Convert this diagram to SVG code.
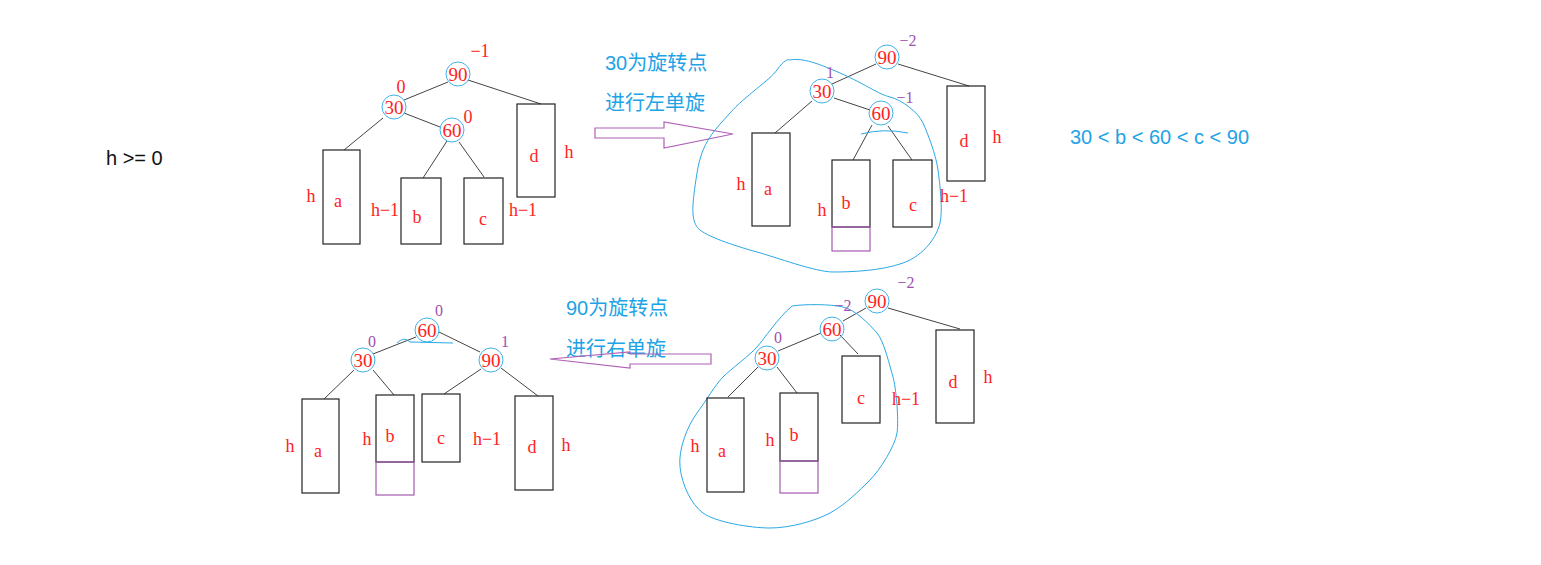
<svg xmlns="http://www.w3.org/2000/svg" width="1541" height="565" viewBox="0 0 1541 565">
<style>
.bg{fill:#fff}
.e{stroke:#444;stroke-width:1;fill:none}
.bx{fill:none;stroke:#222;stroke-width:1.2}
.pb{fill:none;stroke:#a35bb0;stroke-width:1.2}
.nc{fill:none;stroke:#3fb2ea;stroke-width:1}
.r{font-family:"Liberation Serif",serif;font-size:18px;fill:#f22;text-anchor:middle}
.n{font-family:"Liberation Serif",serif;font-size:19px;fill:#f22;text-anchor:middle}
.p{font-family:"Liberation Serif",serif;font-size:16px;fill:#a050b0;text-anchor:middle}
.bl{font-family:"Liberation Sans","Noto Sans CJK SC",sans-serif;font-size:20px;fill:#1ea3e6}
.k{font-family:"Liberation Sans",sans-serif;font-size:20px;fill:#111}
.blob{fill:none;stroke:#2aa8e6;stroke-width:1}
.arr{fill:none;stroke:#b060b8;stroke-width:1.2}
</style>
<rect class="bg" width="1541" height="565"/>
<text class="k" x="106" y="165">h &gt;= 0</text>
<text class="bl" x="1070" y="144">30 &lt; b &lt; 60 &lt; c  &lt; 90</text>
<text class="bl" x="605" y="70">30为旋转点</text>
<text class="bl" x="605" y="110">进行左单旋</text>
<text class="bl" x="566" y="315">90为旋转点</text>
<text class="bl" x="566" y="356">进行右单旋</text>
<g id="connectors">
<path class="e" d="M448 82L404 100M468 80L541 104M383 118L344 150M404 113L440 127M447 141L423 178M459 142L484 177"/>
<path class="e" d="M876 64L832 84M898 64L969 86M812 101L775 133M834 98L870 110M872 125L853 160M888 126L912 160"/>
<path class="e" d="M416 337L373 354M439 332L480 352M354 370L324 399M373 370L394 395M481 369L444 394M501 368L538 396"/>
<path class="e" d="M866 308L843 321M888 308L960 329M821 333L778 351M840 335L858 354M758 367L728 397M777 367L797 393"/>
<polygon class="arr" points="595,128 664,128 664,122 733,134 664,148 664,138 595,138"/>
<polygon class="arr" points="711,354 711,364 630,364 630,368 550,359 630,352 630,354"/>
<path class="blob" d="M790 60C800 58 813 61 840 73S878 94 890 97 918 112 923 123 936 155 938 170 943 210 940 223 925 255 903 263 850 272 833 272 775 257 757 252 710 238 700 230 692 205 697 173 715 130 730 113 770 80 777 70 788 59 790 60"/>
<path class="blob" d="M792 306C805 304 830 304 843 307S870 325 877 333 890 367 893 377 899 420 897 433 880 470 870 480 845 505 830 513 790 528 770 528 715 522 703 513 682 485 680 467 688 425 697 413 715 385 723 377 750 355 757 347 778 318 792 306"/>
<path class="blob" d="M861 134Q884 128 908 133"/>
<path class="blob" d="M397 343Q404 336 410 342L453 343"/>
</g>
<g id="tl">
<circle class="nc" cx="458" cy="74" r="12"/><text class="n" x="458" y="81">90</text><text class="r" x="480" y="57">−1</text>
<circle class="nc" cx="394" cy="107" r="12"/><text class="n" x="394" y="114">30</text><text class="r" x="401" y="93">0</text>
<circle class="nc" cx="452" cy="130" r="12"/><text class="n" x="452" y="137">60</text><text class="r" x="468" y="123">0</text>
<rect class="bx" x="323" y="150" width="37" height="94"/><text class="r" x="311" y="202">h</text><text class="r" x="338" y="207">a</text>
<rect class="bx" x="401" y="178" width="40" height="66"/><text class="r" x="385" y="216">h−1</text><text class="r" x="417" y="223">b</text>
<rect class="bx" x="464" y="178" width="39" height="66"/><text class="r" x="523" y="216">h−1</text><text class="r" x="483" y="225">c</text>
<rect class="bx" x="517" y="104" width="38" height="93"/><text class="r" x="534" y="162">d</text><text class="r" x="569" y="158">h</text>
</g>
<g id="tr">
<circle class="nc" cx="887" cy="57" r="12"/><text class="n" x="887" y="64">90</text><text class="p" x="908" y="46">−2</text>
<circle class="nc" cx="822" cy="91" r="12"/><text class="n" x="822" y="98">30</text><text class="p" x="830" y="78">1</text>
<circle class="nc" cx="881" cy="113" r="12"/><text class="n" x="881" y="120">60</text><text class="p" x="905" y="103">−1</text>
<rect class="bx" x="752" y="133" width="38" height="93"/><text class="r" x="741" y="190">h</text><text class="r" x="768" y="195">a</text>
<rect class="bx" x="832" y="160" width="38" height="67"/><rect class="pb" x="832" y="227" width="38" height="24"/><text class="r" x="822" y="216">h</text><text class="r" x="846" y="209">b</text>
<rect class="bx" x="893" y="160" width="39" height="67"/><text class="r" x="913" y="211">c</text><text class="r" x="954" y="202">h−1</text>
<rect class="bx" x="947" y="86" width="38" height="95"/><text class="r" x="964" y="147">d</text><text class="r" x="997" y="143">h</text>
</g>
<g id="bl">
<circle class="nc" cx="427" cy="330" r="12"/><text class="n" x="427" y="337">60</text><text class="p" x="439" y="316">0</text>
<circle class="nc" cx="363" cy="360" r="12"/><text class="n" x="363" y="367">30</text><text class="p" x="372" y="347">0</text>
<circle class="nc" cx="491" cy="360" r="12"/><text class="n" x="491" y="367">90</text><text class="p" x="505" y="347">1</text>
<rect class="bx" x="302" y="399" width="37" height="94"/><text class="r" x="290" y="452">h</text><text class="r" x="318" y="457">a</text>
<rect class="bx" x="376" y="395" width="38" height="67"/><rect class="pb" x="376" y="462" width="38" height="33"/><text class="r" x="367" y="445">h</text><text class="r" x="390" y="442">b</text>
<rect class="bx" x="422" y="394" width="38" height="68"/><text class="r" x="441" y="444">c</text><text class="r" x="487" y="445">h−1</text>
<rect class="bx" x="515" y="396" width="38" height="94"/><text class="r" x="532" y="453">d</text><text class="r" x="566" y="451">h</text>
</g>
<g id="br">
<circle class="nc" cx="877" cy="301" r="12"/><text class="n" x="877" y="308">90</text><text class="p" x="906" y="288">−2</text>
<circle class="nc" cx="832" cy="329" r="12"/><text class="n" x="832" y="336">60</text><text class="p" x="843" y="311">−2</text>
<circle class="nc" cx="767" cy="358" r="12"/><text class="n" x="767" y="365">30</text><text class="p" x="778" y="343">0</text>
<rect class="bx" x="707" y="398" width="37" height="94"/><text class="r" x="695" y="452">h</text><text class="r" x="722" y="457">a</text>
<rect class="bx" x="780" y="393" width="38" height="68"/><rect class="pb" x="780" y="461" width="38" height="32"/><text class="r" x="770" y="446">h</text><text class="r" x="794" y="441">b</text>
<rect class="bx" x="842" y="356" width="38" height="67"/><text class="r" x="861" y="404">c</text><text class="r" x="906" y="405">h−1</text>
<rect class="bx" x="936" y="330" width="38" height="93"/><text class="r" x="953" y="388">d</text><text class="r" x="988" y="383">h</text>
</g>
</svg>
